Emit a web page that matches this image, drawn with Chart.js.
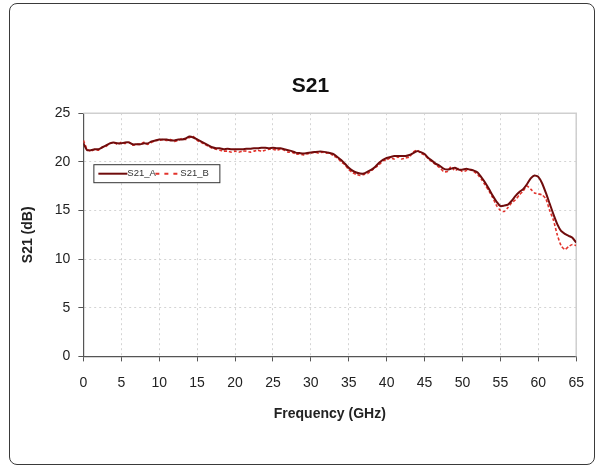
<!DOCTYPE html>
<html>
<head>
<meta charset="utf-8">
<script src="https://cdn.jsdelivr.net/npm/chart.js@4/dist/chart.umd.min.js"></script>
<style>
    body { margin: 0; background: #fff; }
    #wrap { position: relative; width: 597px; height: 467px; }
    #frame {
        position: absolute; left: 9px; top: 3px; width: 584px; height: 460px;
        border: 1.5px solid #3a3a3a; border-radius: 8px; pointer-events: none;
    }
    canvas { position: absolute; left: 0; top: 0; }
</style>
</head>
<body>
<div id="wrap">
    <canvas id="s21Chart" width="597" height="467"></canvas>
    <div id="frame"></div>
</div>
<script>
// Frequências (GHz), passo de 0.5
const freqs = [
    0, 0.5, 1, 1.5, 2, 2.5, 3, 3.5, 4, 4.5, 5, 5.5, 6, 6.5, 7, 7.5, 8, 8.5, 9, 9.5,
    10, 10.5, 11, 11.5, 12, 12.5, 13, 13.5, 14, 14.5, 15, 15.5, 16, 16.5, 17, 17.5, 18, 18.5, 19, 19.5,
    20, 20.5, 21, 21.5, 22, 22.5, 23, 23.5, 24, 24.5, 25, 25.5, 26, 26.5, 27, 27.5, 28, 28.5, 29, 29.5,
    30, 30.5, 31, 31.5, 32, 32.5, 33, 33.5, 34, 34.5, 35, 35.5, 36, 36.5, 37, 37.5, 38, 38.5, 39, 39.5,
    40, 40.5, 41, 41.5, 42, 42.5, 43, 43.5, 44, 44.5, 45, 45.5, 46, 46.5, 47, 47.5, 48, 48.5, 49, 49.5,
    50, 50.5, 51, 51.5, 52, 52.5, 53, 53.5, 54, 54.5, 55, 55.5, 56, 56.5, 57, 57.5, 58, 58.5, 59, 59.5,
    60, 60.5, 61, 61.5, 62, 62.5, 63, 63.5, 64, 64.5, 65
];

// S21 medido (dB) - amostra A
const s21A = [
    21.9, 21.2, 21.2, 21.3, 21.3, 21.5, 21.7, 21.9, 22.0, 21.9, 21.9, 22.0, 22.0, 21.8, 21.8, 21.8, 21.9, 21.9, 22.1, 22.2,
    22.3, 22.3, 22.3, 22.2, 22.2, 22.3, 22.3, 22.4, 22.6, 22.5, 22.3, 22.1, 21.9, 21.7, 21.5, 21.4, 21.4, 21.3, 21.35, 21.3,
    21.3, 21.3, 21.3, 21.35, 21.35, 21.4, 21.4, 21.45, 21.45, 21.4, 21.45, 21.4, 21.4, 21.3, 21.2, 21.1, 20.95, 20.9, 20.85, 20.9,
    20.95, 21.0, 21.05, 21.05, 21.0, 20.9, 20.8, 20.5, 20.2, 19.8, 19.4, 19.1, 18.9, 18.8, 18.8, 19.0, 19.2, 19.5, 19.9, 20.2,
    20.4, 20.5, 20.6, 20.6, 20.6, 20.6, 20.7, 20.9, 21.1, 21.0, 20.8, 20.4, 20.1, 19.8, 19.6, 19.3, 19.2, 19.3, 19.4, 19.2,
    19.2, 19.3, 19.2, 19.1, 18.9, 18.4, 17.85, 17.2, 16.5, 15.9, 15.45, 15.5, 15.6, 16.0, 16.5, 16.9, 17.2, 17.7, 18.3, 18.6,
    18.45, 17.8, 16.8, 15.7, 14.6, 13.6, 12.9, 12.6, 12.4, 12.2, 11.7
];

// S21 medido (dB) - amostra B
const s21B = [
    22.2, 21.3, 21.1, 21.3, 21.2, 21.5, 21.6, 21.9, 22.0, 21.8, 22.0, 21.9, 22.0, 21.7, 21.8, 21.8, 22.0, 21.8, 22.0, 22.2,
    22.2, 22.3, 22.2, 22.3, 22.1, 22.2, 22.4, 22.3, 22.5, 22.6, 22.2, 22.0, 21.8, 21.6, 21.4, 21.3, 21.2, 21.1, 21.1, 21.0,
    21.1, 21.0, 21.1, 21.1, 21.0, 21.1, 21.2, 21.1, 21.2, 21.3, 21.3, 21.2, 21.3, 21.2, 21.0, 21.0, 20.8, 20.8, 20.7, 20.8,
    20.9, 21.0, 20.9, 21.0, 20.9, 20.9, 20.6, 20.4, 20.0, 19.7, 19.2, 18.9, 18.7, 18.6, 18.7, 18.8, 19.1, 19.4, 19.7, 20.1,
    20.2, 20.4, 20.3, 20.5, 20.3, 20.4, 20.5, 21.0, 21.2, 20.9, 20.7, 20.3, 20.0, 19.7, 19.4, 19.0, 19.0, 19.5, 19.1, 19.3,
    19.0, 19.1, 19.2, 19.0, 18.7, 18.2, 17.6, 17.0, 16.3, 15.5, 15.0, 14.9, 15.3, 15.8, 16.1, 16.6, 17.0, 17.5, 17.2, 16.8,
    16.7, 16.6, 16.2, 15.0, 14.0, 12.5, 11.4, 11.0, 11.3, 11.5, 11.4
];

const seriesNames = ['S21_A', 'S21_B'];
const seriesColors = ['#700c0c', '#e2332c'];

const fontFamily = '"Liberation Sans", Arial, sans-serif';

function toPoints(ys) {
    return freqs.map((f, i) => ({ x: f, y: ys[i] }));
}

// Borda superior/direita clara da área do gráfico
const plotFrame = {
    id: 'plotFrame',
    beforeDatasetsDraw(chart) {
        const { ctx, chartArea: a } = chart;
        ctx.save();
        ctx.strokeStyle = '#cfcfcf';
        ctx.lineWidth = 1.5;
        ctx.beginPath();
        ctx.moveTo(a.left, a.top);
        ctx.lineTo(a.right, a.top);
        ctx.lineTo(a.right, a.bottom);
        ctx.stroke();
        ctx.restore();
    }
};

// Título um pouco deslocado para a direita, como no original
const titleShift = {
    id: 'titleShift',
    afterLayout(chart) {
        const t = chart.titleBlock;
        if (t) { t.left += 11; t.right += 11; }
    }
};

// Legenda em caixa, dentro da área do gráfico
const boxLegend = {
    id: 'boxLegend',
    afterDatasetsDraw(chart) {
        const { ctx, chartArea: a } = chart;
        const x = a.left + 10, y = a.top + 51, w = 126, h = 18;
        ctx.save();
        ctx.fillStyle = '#fff';
        ctx.fillRect(x, y, w, h);
        ctx.strokeStyle = '#333';
        ctx.lineWidth = 1;
        ctx.strokeRect(x + 0.5, y + 0.5, w, h);
        const cy = y + h / 2 + 0.5;
        ctx.font = '9.5px ' + fontFamily;
        ctx.textBaseline = 'middle';

        ctx.strokeStyle = seriesColors[0];
        ctx.lineWidth = 2;
        ctx.beginPath();
        ctx.moveTo(x + 5, cy);
        ctx.lineTo(x + 34, cy);
        ctx.stroke();
        ctx.fillStyle = '#333';
        ctx.fillText(seriesNames[0], x + 34, cy);

        ctx.strokeStyle = seriesColors[1];
        ctx.setLineDash([4, 5]);
        ctx.beginPath();
        ctx.moveTo(x + 62, cy);
        ctx.lineTo(x + 84, cy);
        ctx.stroke();
        ctx.setLineDash([]);
        ctx.fillText(seriesNames[1], x + 87, cy);
        ctx.restore();
    }
};

function axisOptions(min, max, titleText, titlePad) {
    return {
        type: 'linear',
        min: min,
        max: max,
        ticks: {
            stepSize: 5,
            color: '#222',
            padding: 8,
            font: { family: fontFamily, size: 14 }
        },
        grid: {
            color: '#d4d4d4',
            tickColor: '#555',
            tickLength: 5,
            lineWidth: 1
        },
        border: { color: '#555', width: 1.2, dash: [2, 3] },
        title: {
            display: true,
            text: titleText,
            color: '#222',
            padding: titlePad,
            font: { family: fontFamily, size: 14, weight: 'bold' }
        }
    };
}

const ctx = document.getElementById('s21Chart').getContext('2d');
const xAxis = axisOptions(0, 65, 'Frequency (GHz)', { top: 2, bottom: 0 });
xAxis.ticks.padding = 13;
const yAxis = axisOptions(0, 25, 'S21 (dB)', { top: 0, bottom: 10 });

new Chart(ctx, {
    type: 'line',
    data: {
        datasets: [
            {
                label: seriesNames[0],
                data: toPoints(s21A),
                borderColor: seriesColors[0],
                borderWidth: 2,
                pointRadius: 0,
                tension: 0.2
            },
            {
                label: seriesNames[1],
                data: toPoints(s21B),
                borderColor: seriesColors[1],
                borderWidth: 1.6,
                borderDash: [3, 2],
                pointRadius: 0,
                tension: 0.2
            }
        ]
    },
    options: {
        responsive: false,
        animation: false,
        layout: { padding: { top: 74, left: 20, right: 18, bottom: 44 } },
        scales: { x: xAxis, y: yAxis },
        plugins: {
            legend: { display: false },
            tooltip: { enabled: false },
            title: {
                display: true,
                text: 'S21',
                color: '#111',
                padding: { top: 0, bottom: 14 },
                font: { family: fontFamily, size: 21, weight: 'bold' }
            }
        }
    },
    plugins: [plotFrame, titleShift, boxLegend]
});
</script>
</body>
</html>
